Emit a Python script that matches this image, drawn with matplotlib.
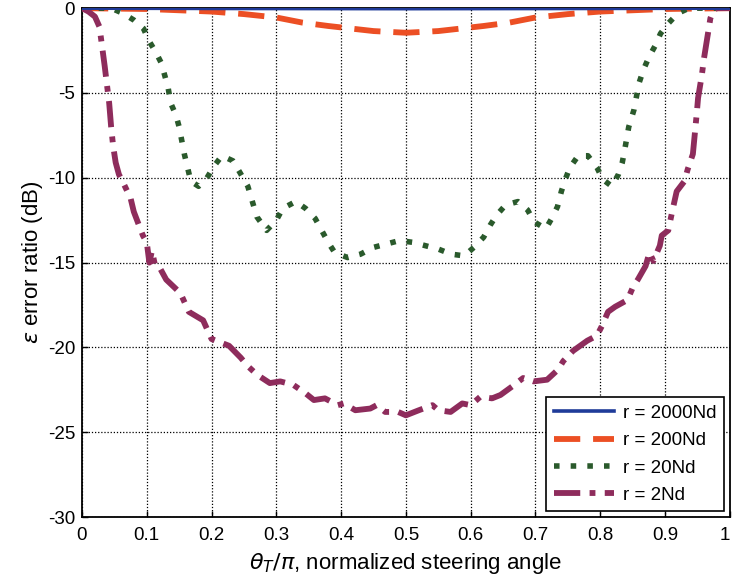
import matplotlib.pyplot as plt
import numpy as np

plt.rcParams['font.family'] = ['Liberation Sans', 'DejaVu Sans']

# r = 2000Nd
x_2000 = [0.0, 0.25, 0.5, 0.75, 1.0]
y_2000 = [0.0, -0.02, -0.03, -0.02, 0.0]

# r = 200Nd
x_200 = [0.0, 0.1, 0.2, 0.25, 0.3, 0.34, 0.38, 0.45, 0.5, 0.55, 0.62, 0.66, 0.7, 0.75, 0.8, 0.9, 1.0]
y_200 = [0.0, -0.05, -0.2, -0.35, -0.55, -0.85, -1.05, -1.35, -1.45, -1.35, -1.05, -0.85, -0.55, -0.35, -0.2, -0.05, 0.0]

# r = 20Nd
x_20 = [0.0, 0.03, 0.045, 0.063, 0.08, 0.095, 0.103, 0.114, 0.122, 0.128, 0.133, 0.137,
        0.145, 0.15, 0.154, 0.158, 0.163, 0.168, 0.18, 0.193, 0.204, 0.216, 0.233, 0.244,
        0.256, 0.27, 0.285, 0.30, 0.31, 0.33, 0.345, 0.36, 0.37, 0.38, 0.39, 0.41, 0.43,
        0.45, 0.47, 0.49, 0.51, 0.53, 0.55, 0.57, 0.59, 0.605, 0.62, 0.63, 0.64, 0.654,
        0.673, 0.688, 0.698, 0.716, 0.725, 0.734, 0.74, 0.746, 0.753, 0.766, 0.781, 0.795,
        0.804, 0.818, 0.828, 0.834, 0.838, 0.844, 0.852, 0.86, 0.867, 0.875, 0.885, 0.893,
        0.905, 0.92, 0.937, 0.955, 0.97, 1.0]
y_20 = [0.0, 0.0, 0.0, -0.3, -0.7, -1.2, -1.9, -2.6, -3.2, -4.0, -4.7, -5.6,
        -6.3, -7.0, -7.8, -8.6, -9.4, -10.2, -10.5, -10.0, -9.3, -8.7, -9.0, -9.7,
        -10.5, -12.3, -13.1, -12.5, -11.8, -11.4, -11.8, -12.4, -13.1, -13.8, -14.4, -14.7, -14.5,
        -14.1, -13.9, -13.7, -13.8, -14.0, -14.2, -14.5, -14.6, -14.1, -13.5, -12.8, -12.2, -11.6,
        -11.4, -11.9, -12.6, -13.0, -12.4, -11.7, -10.8, -10.1, -9.4, -8.7, -8.7, -9.4,
        -10.1, -10.5, -9.8, -9.1, -8.3, -7.0, -6.0, -4.4, -3.6, -2.9, -2.2, -1.5,
        -0.9, -0.3, 0.0, 0.0, 0.0, 0.0]

# r = 2Nd
x_2 = [0.0, 0.01, 0.02, 0.027, 0.035, 0.042, 0.045, 0.048, 0.052, 0.057, 0.065, 0.075,
       0.08, 0.086, 0.094, 0.1, 0.104, 0.108, 0.113, 0.12, 0.13, 0.152, 0.165, 0.187,
       0.2, 0.227, 0.245, 0.256, 0.27, 0.29, 0.306, 0.326, 0.345, 0.358, 0.375, 0.395,
       0.404, 0.422, 0.445, 0.455, 0.468, 0.488, 0.5, 0.52, 0.541, 0.55, 0.569, 0.587,
       0.6, 0.615, 0.633, 0.646, 0.664, 0.681, 0.697, 0.718, 0.735, 0.743, 0.758, 0.78,
       0.795, 0.803, 0.812, 0.823, 0.842, 0.851, 0.858, 0.87, 0.876, 0.882, 0.892, 0.895,
       0.905, 0.911, 0.918, 0.93, 0.935, 0.943, 0.946, 0.949, 0.951, 0.954, 0.957, 0.96,
       0.965, 0.97, 0.975, 0.98, 1.0]
y_2 = [0.0, -0.2, -0.5, -1.1, -3.4, -5.6, -7.0, -8.1, -9.1, -9.8, -10.4, -11.2,
       -12.0, -12.6, -13.4, -13.8, -15.0, -14.3, -15.2, -15.3, -16.0, -16.8, -17.9, -18.4,
       -19.5, -19.9, -20.6, -21.1, -21.6, -22.1, -22.0, -22.2, -22.7, -23.1, -23.0, -23.4,
       -23.3, -23.7, -23.6, -23.4, -23.8, -23.8, -24.0, -23.7, -23.4, -23.7, -23.8, -23.3,
       -23.4, -22.9, -23.0, -22.8, -22.3, -21.8, -22.0, -21.9, -21.3, -20.8, -20.2, -19.6,
       -19.3, -18.7, -17.9, -17.6, -17.2, -16.4, -16.0, -15.2, -14.4, -14.9, -14.0, -13.4,
       -13.1, -12.0, -10.8, -10.2, -9.5, -8.6, -7.4, -6.2, -5.3, -4.6, -3.9, -3.0,
       -1.8, -0.6, -0.1, 0.0, 0.0]

fig = plt.figure(figsize=(7.32, 5.83), dpi=100)
ax = fig.add_axes([0.112, 0.113, 0.885, 0.873])

ax.plot(x_2000, y_2000, color='#1f3b99', lw=2.6, label='r = 2000Nd', zorder=4)
ax.plot(x_200, y_200, color='#ec4f24', lw=4.2, dashes=(4.5, 2.2), label='r = 200Nd', zorder=3)
ax.plot(x_20, y_20, color='#2a5a2c', lw=4.0, dashes=(1.0, 2.0), label='r = 20Nd', zorder=3)
ax.plot(x_2, y_2, color='#8e2c5c', lw=4.2, dashes=(4.5, 1.6, 1.0, 1.6), label='r = 2Nd', zorder=3)

ax.set_xlim(0, 1)
ax.set_ylim(-30, 0)
ax.set_xticks(np.arange(0, 1.01, 0.1))
ax.set_xticklabels(['0', '0.1', '0.2', '0.3', '0.4', '0.5', '0.6', '0.7', '0.8', '0.9', '1'])
ax.get_xticklabels()[-1].set_horizontalalignment('right')
ax.set_yticks([-30, -25, -20, -15, -10, -5, 0])
ax.set_yticklabels(['-30', '-25', '-20', '-15', '-10', '-5', '0'])
ax.tick_params(direction='in', length=4, labelsize=13.5, width=1)
ax.tick_params(axis='x', pad=7)
ax.tick_params(axis='y', pad=5)
ax.grid(True, color='black', linestyle=(0, (1, 1.5)), linewidth=0.9)
for s in ax.spines.values():
    s.set_linewidth(1.3)

ax.set_xlabel(r'$\theta_T/\pi$, normalized steering angle', fontsize=16, labelpad=5)
ax.set_ylabel(r'$\varepsilon$ error ratio (dB)', fontsize=16, labelpad=2)

leg = ax.legend(loc='lower right', fontsize=13.5, handlelength=3.2, fancybox=False,
                framealpha=1, edgecolor='black', borderaxespad=0.3, labelspacing=0.55,
                handletextpad=0.5)
leg.get_frame().set_linewidth(1.2)

fig.savefig('out.png', dpi=100)
